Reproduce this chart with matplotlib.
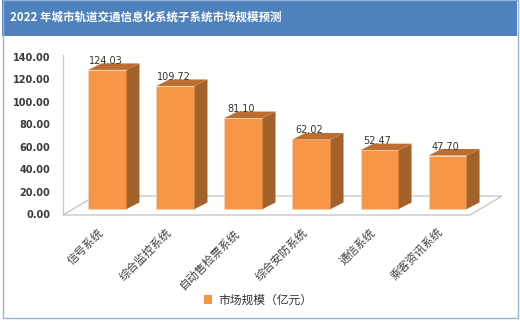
import matplotlib
matplotlib.use("Agg")
import matplotlib.pyplot as plt
from matplotlib.patches import Polygon, Rectangle, Patch

plt.rcParams['font.family'] = ['Noto Sans CJK SC', 'DejaVu Sans']

title = "2022 年城市轨道交通信息化系统子系统市场规模预测"
systems = ["信号系统", "综合监控系统", "自动售检票系统", "综合安防系统", "通信系统", "乘客资讯系统"]
market = [124.03, 109.72, 81.10, 62.02, 52.47, 47.70]
series_name = "市场规模（亿元）"
yticks = [0, 20, 40, 60, 80, 100, 120, 140]

FRONT = "#f79646"
SIDE = "#a3612c"
TOP = "#bd6d30"
EDGE = "#c8c8c8"

W, H = 520, 322
fig = plt.figure(figsize=(W / 100, H / 100), dpi=100)

# header band + frame
fig.patches.append(Rectangle((2 / W, 1 - 36 / H), 515 / W, 36 / H, transform=fig.transFigure,
                             facecolor="#4f81bd", edgecolor="none", zorder=0))
fig.patches.append(Rectangle((2.5 / W, 1 - 318 / H), 515 / W, 318 / H, transform=fig.transFigure,
                             facecolor="none", edgecolor="#95b3d7", lw=1, zorder=0))
fig.text(10 / W, 1 - 17 / H, title, color="white", fontsize=8.3, fontweight="bold",
         ha="left", va="center")

# plot area: value 0 sits at y=214px, 140 at y=57px
ax = fig.add_axes([63 / W, 1 - 214 / H, (502 - 63) / W, (214 - 57) / H])
ax.set_xlim(-0.654, 5.80)
ax.set_ylim(0, 140)
for s in ax.spines.values():
    s.set_visible(False)
ax.set_xticks([])
ax.set_yticks(yticks)
ax.set_yticklabels([f"{v:.2f}" for v in yticks], fontsize=7, fontweight="bold",
                   color="#3a3a3a", family="DejaVu Sans")
ax.tick_params(axis="y", length=0, pad=9)

# floor and left wall edge
fl, fr, bl, br = -0.654, 5.33, -0.184, 5.80
ff, fb = -0.9, 16.0
ax.add_patch(Polygon([(fl, ff), (fr, ff), (br, fb), (bl, fb)], closed=True,
                     facecolor="white", edgecolor=EDGE, lw=1, clip_on=False, zorder=1))
ax.plot([fl, fl], [ff, 141.5], color=EDGE, lw=1, clip_on=False, zorder=1)

# 3d-looking bars
half = 0.28
dx, dy = 0.19, 5.8
base = 4.46
for i, v in enumerate(market):
    x0, x1 = i - half, i + half
    t = base + v
    ax.add_patch(Rectangle((x0, base), 2 * half, v, facecolor=FRONT, edgecolor="#fbd6b4",
                           lw=0.5, clip_on=False, zorder=3))
    ax.add_patch(Polygon([(x1, base), (x1 + dx, base + dy), (x1 + dx, t + dy), (x1, t)],
                         closed=True, facecolor=SIDE, edgecolor="none", clip_on=False, zorder=3))
    ax.add_patch(Polygon([(x0, t), (x1, t), (x1 + dx, t + dy), (x0 + dx, t + dy)],
                         closed=True, facecolor=TOP, edgecolor="none", clip_on=False, zorder=3))
    ax.text(i - 0.03, t + 8, f"{v:.2f}", ha="center", va="center", fontsize=7,
            color="#333333", family="DejaVu Sans", zorder=4)
    ax.text(i - 0.15, -11.5, systems[i], ha="right", va="top", rotation=45,
            rotation_mode="anchor", fontsize=8.2, color="#404040", clip_on=False)

fig.legend(handles=[Patch(facecolor=FRONT, edgecolor="none", label=series_name)],
           loc="center", bbox_to_anchor=(258 / W, 1 - 300 / H), frameon=False,
           fontsize=8.5, handlelength=0.7, handleheight=0.7, handletextpad=0.5,
           labelcolor="#333333")

fig.savefig("out.png", dpi=100)
